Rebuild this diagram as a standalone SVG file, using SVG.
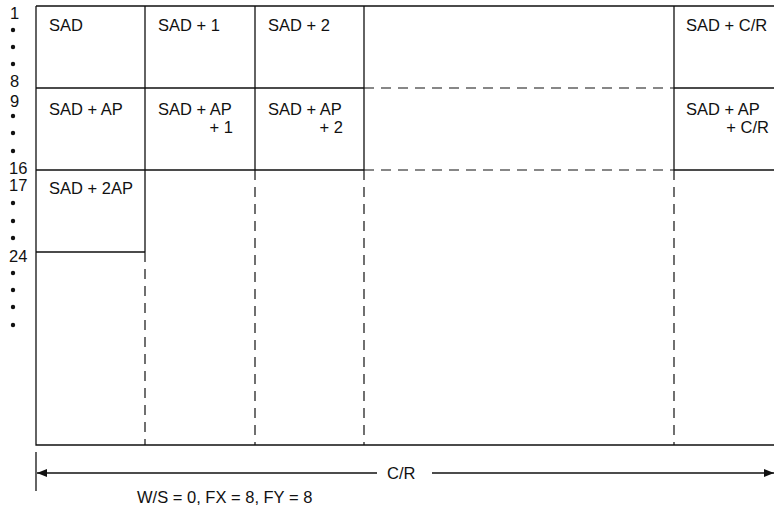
<svg xmlns="http://www.w3.org/2000/svg" width="774" height="512" viewBox="0 0 774 512">
<defs>
<style>
text{font-family:"Liberation Sans",Arial,sans-serif;font-size:16.5px;fill:#111}
.s{stroke:#111;stroke-width:1.3;fill:none}
.d{stroke:#111;stroke-width:1.2;fill:none;stroke-dasharray:10 7}
.dot{fill:#111}
</style>
<marker id="ah" viewBox="0 0 10 8" refX="10" refY="4" markerWidth="10" markerHeight="8" markerUnits="userSpaceOnUse" orient="auto-start-reverse">
<path d="M0,0 L10,4 L0,8 z" fill="#111"/>
</marker>
</defs>
<rect width="774" height="512" fill="#fff"/>
<g id="row-labels">
<text x="10" y="19">1</text>
<circle class="dot" cx="13" cy="30" r="2.2"/><circle class="dot" cx="13" cy="47" r="2.2"/><circle class="dot" cx="13" cy="64" r="2.2"/>
<text x="10" y="87">8</text>
<text x="10" y="107">9</text>
<circle class="dot" cx="13" cy="116" r="2.2"/><circle class="dot" cx="13" cy="133" r="2.2"/><circle class="dot" cx="13" cy="151" r="2.2"/>
<text x="9" y="174">16</text>
<text x="9" y="191">17</text>
<circle class="dot" cx="13" cy="203" r="2.2"/><circle class="dot" cx="13" cy="221" r="2.2"/><circle class="dot" cx="13" cy="238" r="2.2"/>
<text x="9" y="262">24</text>
<circle class="dot" cx="13" cy="273" r="2.2"/><circle class="dot" cx="13" cy="290" r="2.2"/><circle class="dot" cx="13" cy="307" r="2.2"/><circle class="dot" cx="13" cy="325" r="2.2"/>
</g>
<g id="grid">
<path class="s" d="M36,6 H774 M36,6 V445 H774 M36,88 H364 M674,88 H774 M36,170 H364 M674,170 H774 M36,252 H145 M145,6 V252 M255,6 V170 M364,6 V170 M674,6 V170"/>
<path class="d" d="M364,88 H674 M364,170 H674 M145,252 V445 M255,170 V445 M364,170 V445 M674,170 V445"/>
</g>
<g id="cell-sad"><text x="49" y="31">SAD</text></g>
<g id="cell-sad1"><text x="158" y="31">SAD + 1</text></g>
<g id="cell-sad2"><text x="268" y="31">SAD + 2</text></g>
<g id="cell-sadcr"><text x="686" y="31">SAD + C/R</text></g>
<g id="cell-sadap"><text x="49" y="115">SAD + AP</text></g>
<g id="cell-sadap1"><text x="158" y="115">SAD + AP</text><text x="233" y="133" text-anchor="end">+ 1</text></g>
<g id="cell-sadap2"><text x="268" y="115">SAD + AP</text><text x="343" y="133" text-anchor="end">+ 2</text></g>
<g id="cell-sadapcr"><text x="686" y="115">SAD + AP</text><text x="769" y="133" text-anchor="end">+ C/R</text></g>
<g id="cell-sad2ap"><text x="49" y="194">SAD + 2AP</text></g>
<g id="connectors">
<path class="s" d="M36,452 V491"/>
<path class="s" d="M377,473 H37" marker-end="url(#ah)"/>
<path class="s" d="M432,473 H774" marker-end="url(#ah)"/>
</g>
<g id="dimension-label"><text x="387" y="479">C/R</text></g>
<g id="caption"><text x="137" y="503">W/S = 0, FX = 8, FY = 8</text></g>
</svg>
